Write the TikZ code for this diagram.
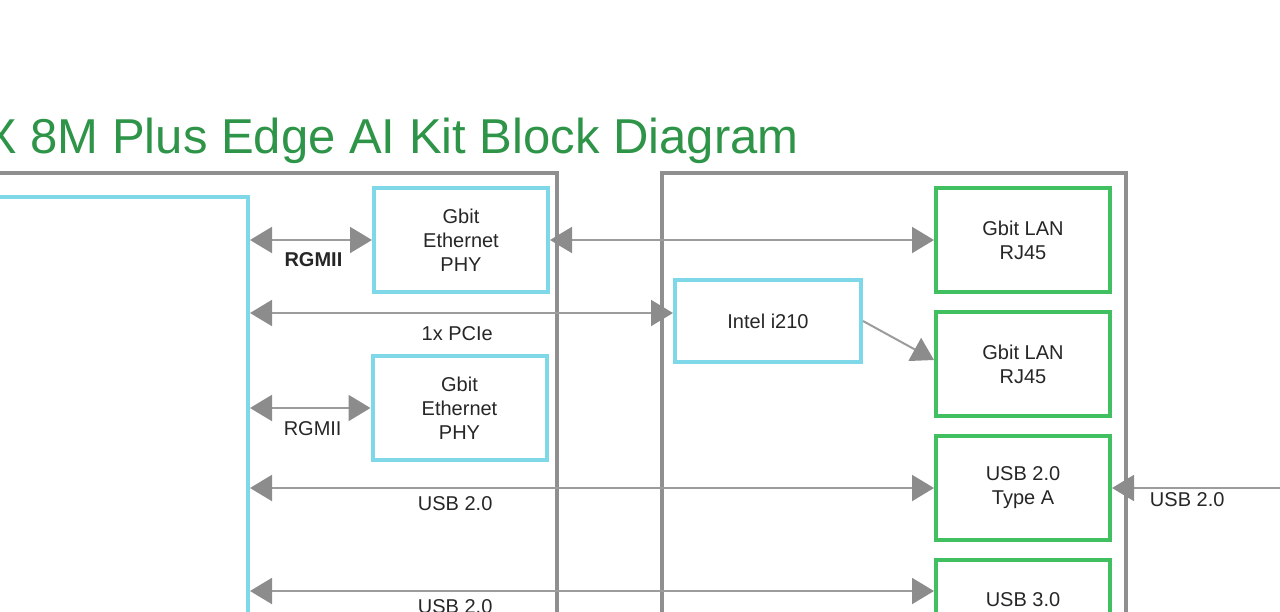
\documentclass[tikz,border=0pt]{standalone}
\usepackage{fontspec}
\setmainfont{Liberation Sans}
\usetikzlibrary{arrows.meta, positioning, calc}
\definecolor{socCyan}   {HTML}{7FD8E8}
\definecolor{portGreen} {HTML}{40C060}
\definecolor{frameGray} {HTML}{8F8F8F}
\definecolor{wireGray}  {HTML}{9C9C9C}
\definecolor{headGray}  {HTML}{8C8C8C}
\definecolor{titleGreen}{HTML}{2E9448}
\definecolor{inkDark}   {HTML}{262626}

\begin{document}
\begin{tikzpicture}[
    x=0.5pt, y=-0.5pt,
    >={Triangle[length=11pt, width=13pt, color=headGray]},
    txt/.style={font=\fontsize{10}{12}\selectfont, text=inkDark},
    phy/.style={txt, draw=socCyan, line width=2pt, minimum width=87pt,
                minimum height=52pt, align=center, inner sep=0pt},
    port/.style={phy, draw=portGreen},
    frame/.style={draw=frameGray, line width=2pt, inner sep=0pt},
    arr/.style={<->, draw=wireGray, line width=1pt},
    lbl/.style={txt, inner sep=2pt},
    title/.style={font=\fontsize{24.5}{30}\selectfont, text=titleGreen, inner sep=0pt},
  ]
    \clip (0,0) rectangle (1280,611);

    \node[title, anchor=base east] (ttl) at (799,153) {i.MX 8M Plus Edge AI Kit Block Diagram};

    % boards and SoC
    \node[frame, minimum width=308.5pt, minimum height=273.5pt] (brdL) at (248.5,446.5) {};
    \node[frame, minimum width=232pt, minimum height=273.5pt] (brdR) at (894,446.5) {};
    \node[draw=socCyan, line width=2pt, inner sep=0pt,
          minimum width=154pt, minimum height=261.5pt] (soc) at (94,458.5) {};

    \node[phy] (phyA) at (461,240) {Gbit\\Ethernet\\PHY};
    \node[phy] (phyB) at (459.5,408) {Gbit\\Ethernet\\PHY};
    \node[phy, minimum width=93pt, minimum height=41pt] (i210) at (768,321) {Intel i210};

    \node[port] (lanA) at (1023,240) {Gbit LAN\\RJ45};
    \node[port, below=8pt of lanA] (lanB) {Gbit LAN\\RJ45};
    \node[port, below=8pt of lanB] (usbA) {USB 2.0\\Type A};
    \node[port, below=8pt of usbA] (usbC) {USB 3.0\\~};

    \coordinate (pcieIn) at ([yshift=4pt]i210.west);
    \coordinate (usb3In) at ([yshift=10.5pt]usbC.west);
    \coordinate (hostUsb) at (1300,487);

    \draw[arr] (soc.east |- phyA.west) -- node[lbl, below=3.6pt, pos=0.52,
        font=\fontsize{10}{12}\selectfont\bfseries] (rgmiiA) {RGMII} (phyA.west);
    \draw[arr] (phyA.east) -- (lanA.west);
    \draw[arr] (soc.east |- pcieIn) -- node[lbl, below=4.1pt, pos=0.49] (pcie) {1x PCIe} (pcieIn);
    \draw[->, draw=wireGray, line width=1pt] (i210.east) -- ([yshift=2pt]lanB.west);
    \draw[arr] (soc.east |- phyB.west) -- node[lbl, below=4.1pt, pos=0.52] (rgmiiB) {RGMII} (phyB.west);
    \draw[arr] (soc.east |- usbA.west) -- node[lbl, below=1.9pt, pos=0.3] (usbLblA) {USB 2.0} (usbA.west);
    \draw[->, draw=wireGray, line width=1pt] (hostUsb |- usbA.east) -- node[lbl, below=0pt, pos=0.6] (usbLblH) {USB 2.0} (usbA.east);
    \draw[arr] (soc.east |- usb3In) -- node[lbl, below=1.9pt, pos=0.3] (usbLblC) {USB 2.0} (usb3In);
  \end{tikzpicture}
\end{document}
